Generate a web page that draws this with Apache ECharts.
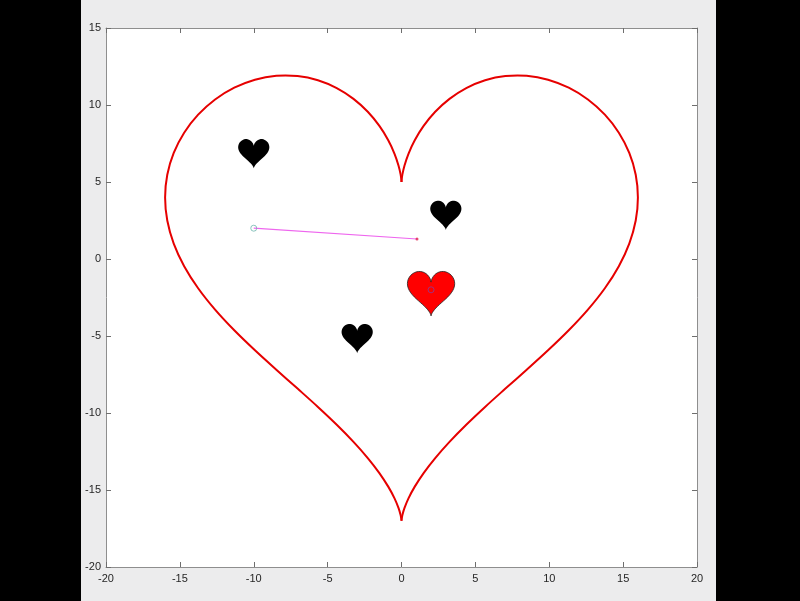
<!DOCTYPE html>
<html>
<head>
<meta charset="utf-8">
<script src="https://cdn.jsdelivr.net/npm/echarts@6/dist/echarts.min.js"></script>
<style>
  html, body { margin: 0; padding: 0; background: #000; }
  #fig { position: absolute; left: 81px; top: 0; width: 635px; height: 601px; background: #ececed; }
  #chart { position: absolute; left: 0; top: 0; width: 800px; height: 601px; }
</style>
</head>
<body>
<div id="fig"></div>
<div id="chart"></div>
<script>
// right half of the heart outline (top cusp -> bottom tip)
const heartX = [0, 0.008, 0.061, 0.204, 0.472, 0.897, 1.497, 2.282, 3.249, 4.383,
                5.657, 7.035, 8.472, 9.918, 11.318, 12.617, 13.764, 14.710, 15.416, 15.853,
                16, 15.853, 15.416, 14.710, 13.764, 12.617, 11.318, 9.918, 8.472, 7.035,
                5.657, 4.383, 3.249, 2.282, 1.497, 0.897, 0.472, 0.204, 0.061, 0.008, 0];
const heartY = [5, 5.126, 5.494, 6.077, 6.834, 7.709, 8.640, 9.559, 10.399, 11.099,
                11.607, 11.881, 11.898, 11.645, 11.125, 10.359, 9.371, 8.201, 6.888, 5.474,
                4, 2.500, 1.004, -0.467, -1.899, -3.287, -4.629, -5.929, -7.189, -8.415,
                -9.606, -10.761, -11.871, -12.923, -13.900, -14.781, -15.542, -16.163, -16.622, -16.904, -17];

// the big heart is drawn as two mirrored halves
const halfSides = [1, -1];

// small black hearts: centre x, centre y, scale
const blackX = [-10, 3, -3];
const blackY = [7, 3, -5];
const blackScale = [0.066, 0.066, 0.066];

// red heart
const redX = [2];
const redY = [-2];
const redScale = [0.1];

// magenta segment
const segX = [-10, 1.05];
const segY = [2, 1.3];

const xMin = -20, xMax = 20, yMin = -20, yMax = 15, step = 5;

const rightHalf = heartX.map((x, i) => [x, heartY[i]]);
const leftHalf = heartX.map((x, i) => [-x, heartY[i]]);
// closed outline for the small filled hearts
const outline = rightHalf.concat(leftHalf.slice().reverse());

const chart = echarts.init(document.getElementById('chart'), null, { renderer: 'canvas' });

const heartItem = (fill, stroke, lw) => (params, api) => {
    const cx = api.value(0), cy = api.value(1), s = api.value(2);
    const pts = outline.map(p => api.coord([cx + s * p[0], cy + s * p[1]]));
    return {
        type: 'polygon',
        shape: { points: pts },
        style: { fill: fill, stroke: stroke, lineWidth: lw }
    };
};

// one smooth polyline per half, keeps the two cusps sharp
const bigHalf = (params, api) => {
    const side = api.value(0);
    const pts = heartX.map((x, i) => api.coord([side * x, heartY[i]]));
    return {
        type: 'polyline',
        shape: { points: pts, smooth: 0.35, smoothConstraint: false },
        style: { fill: null, stroke: '#e60000', lineWidth: 2 }
    };
};

const labelFont = { color: '#262626', fontSize: 11, fontFamily: 'Liberation Sans, Arial, sans-serif' };

const mk = (extra) => Object.assign({
    type: 'value', interval: step,
    axisLine: { show: true, onZero: false, lineStyle: { color: '#8e8e8e', width: 1 } },
    axisTick: { show: true, inside: true, length: 5, lineStyle: { color: '#6e6e6e' } },
    splitLine: { show: false }
}, extra);

chart.setOption({
    animation: false,
    backgroundColor: 'transparent',
    grid: { left: 106, top: 28, width: 591, height: 539, show: true, backgroundColor: '#ffffff', borderWidth: 0 },
    xAxis: [
        mk({ position: 'bottom', min: xMin, max: xMax, axisLabel: Object.assign({ margin: 6 }, labelFont) }),
        mk({ position: 'top', min: xMin, max: xMax, axisLabel: { show: false } })
    ],
    yAxis: [
        mk({ position: 'left', min: yMin, max: yMax, axisLabel: Object.assign({ margin: 5 }, labelFont) }),
        mk({ position: 'right', min: yMin, max: yMax, axisLabel: { show: false } })
    ],
    series: [
        {
            type: 'custom', renderItem: bigHalf,
            data: halfSides.map(s => [s, 0]), z: 3
        },
        {
            type: 'custom', renderItem: heartItem('#000000', null, 0),
            data: blackX.map((x, i) => [x, blackY[i], blackScale[i]]), z: 4
        },
        {
            type: 'custom', renderItem: heartItem('#ff0000', '#222222', 0.8),
            data: redX.map((x, i) => [x, redY[i], redScale[i]]), z: 4
        },
        {
            type: 'line', data: segX.map((x, i) => [x, segY[i]]), showSymbol: false,
            lineStyle: { color: '#ee66ee', width: 1.2 }, z: 5
        },
        {
            type: 'scatter', data: [[segX[0], segY[0]]], symbol: 'circle', symbolSize: 6,
            itemStyle: { color: 'rgba(255,255,255,0)', borderColor: '#6fb7ae', borderWidth: 1 }, z: 6
        },
        {
            type: 'scatter', data: [[segX[1], segY[1]]], symbol: 'circle', symbolSize: 3,
            itemStyle: { color: '#e0204a' }, z: 6
        },
        {
            type: 'scatter', data: redX.map((x, i) => [x, redY[i]]), symbol: 'circle', symbolSize: 6,
            itemStyle: { color: 'rgba(255,0,0,0)', borderColor: '#8a3c9c', borderWidth: 1 }, z: 6
        }
    ]
});
</script>
</body>
</html>
